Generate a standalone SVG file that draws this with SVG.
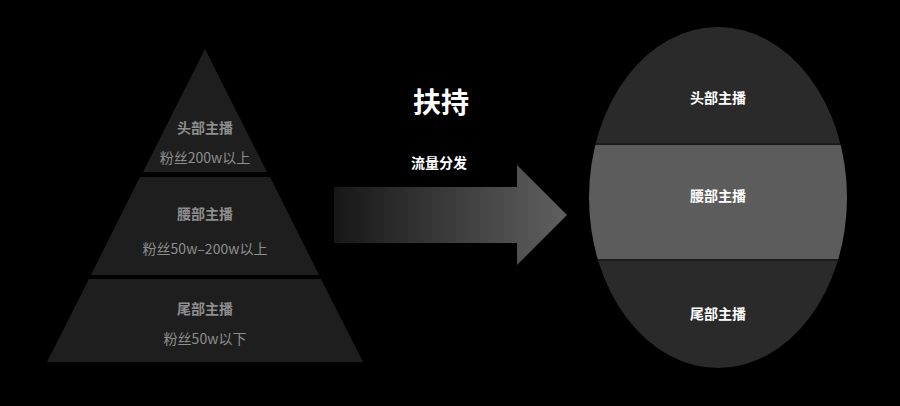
<svg xmlns="http://www.w3.org/2000/svg" width="900" height="406" viewBox="0 0 900 406">
<defs>
<style>
.tier{fill:#1e1e1e}
.pt{font-family:"Noto Sans CJK SC","Liberation Sans",sans-serif;fill:#8e8e8e;text-anchor:middle;dominant-baseline:central}
.ptb{font-weight:bold;font-size:14px}
.pts{font-size:14px}
.wt{font-family:"Noto Sans CJK SC","Liberation Sans",sans-serif;fill:#ffffff;text-anchor:middle;dominant-baseline:central;font-weight:bold}
</style>
<linearGradient id="ag" x1="0" y1="0" x2="1" y2="0">
<stop offset="0" stop-color="#171717"/>
<stop offset="1" stop-color="#606060"/>
</linearGradient>
<clipPath id="ec"><ellipse cx="718" cy="197.5" rx="129" ry="170.5"/></clipPath>
</defs>
<rect width="900" height="406" fill="#000000"/>
<g id="pyramid-top">
<polygon class="tier" points="205,49 267,172 143,172"/>
<text class="pt ptb" x="205" y="127">头部主播</text>
<text class="pt pts" x="205" y="157">粉丝200w以上</text>
</g>
<g id="pyramid-middle">
<polygon class="tier" points="140,177 270,177 319,275 91,275"/>
<text class="pt ptb" x="205" y="213">腰部主播</text>
<text class="pt pts" x="205" y="248">粉丝50w–200w以上</text>
</g>
<g id="pyramid-bottom">
<polygon class="tier" points="89,279 321,279 363,362 47,362"/>
<text class="pt ptb" x="205" y="308">尾部主播</text>
<text class="pt pts" x="205" y="338">粉丝50w以下</text>
</g>
<g id="connectors">
<polygon points="334,187 517,187 517,165 567,215 517,265 517,243 334,243" fill="url(#ag)"/>
</g>
<g id="label-support">
<text class="wt" x="441" y="101" font-size="28">扶持</text>
<text class="wt" x="439" y="162" font-size="14">流量分发</text>
</g>
<g id="ellipse" clip-path="url(#ec)">
<rect x="589" y="27" width="258" height="116" fill="#2a2a2a"/>
<rect x="589" y="143" width="258" height="2" fill="#1c1c1c"/>
<rect x="589" y="145" width="258" height="114" fill="#5c5c5c"/>
<rect x="589" y="259" width="258" height="2" fill="#1c1c1c"/>
<rect x="589" y="261" width="258" height="108" fill="#2a2a2a"/>
</g>
<g id="ellipse-top"><text class="wt" x="718" y="97" font-size="14">头部主播</text></g>
<g id="ellipse-middle"><text class="wt" x="718" y="195" font-size="14">腰部主播</text></g>
<g id="ellipse-bottom"><text class="wt" x="718" y="313" font-size="14">尾部主播</text></g>
</svg>
